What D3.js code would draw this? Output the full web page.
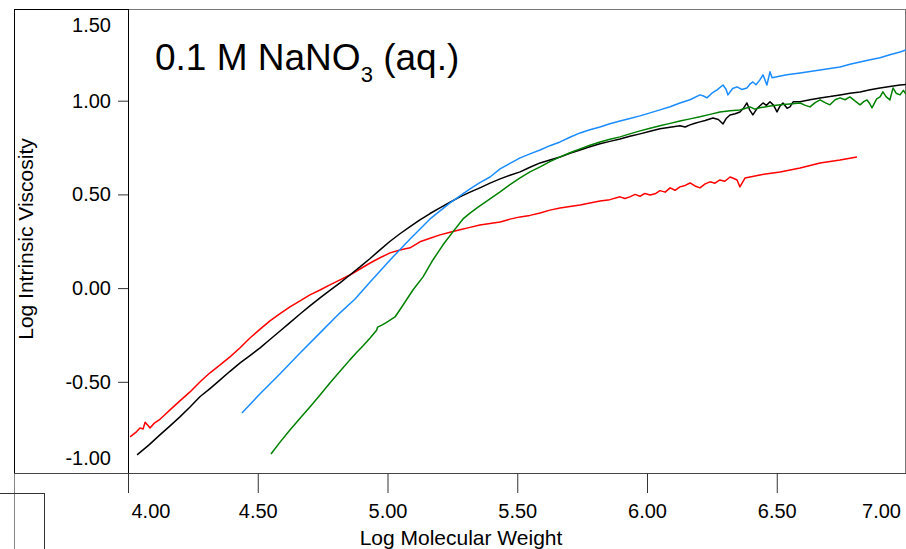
<!DOCTYPE html>
<html>
<head>
<meta charset="utf-8">
<script src="https://cdn.jsdelivr.net/npm/d3@7"></script>
<style>
  html, body { margin: 0; padding: 0; background: #fff; }
  svg { display: block; font-family: "Liberation Sans", Arial, sans-serif; }
</style>
</head>
<body>
<svg id="chart" width="906" height="549"></svg>
<script>
// ---- data ----
const xTicks = [4.0, 4.5, 5.0, 5.5, 6.0, 6.5, 7.0];
const yTicks = [-1.0, -0.5, 0.0, 0.5, 1.0, 1.5];

const redSeries = [
  [4.008,-0.794],[4.030,-0.770],[4.046,-0.746],[4.058,-0.752],[4.066,-0.716],[4.078,-0.735],[4.085,-0.746],
  [4.100,-0.722],[4.123,-0.700],[4.142,-0.676],[4.162,-0.650],[4.200,-0.602],[4.239,-0.554],
  [4.278,-0.500],[4.316,-0.452],[4.355,-0.410],[4.393,-0.367],[4.432,-0.318],[4.470,-0.266],
  [4.508,-0.220],[4.547,-0.175],[4.586,-0.136],[4.624,-0.100],[4.663,-0.068],[4.701,-0.036],
  [4.740,-0.010],[4.778,0.017],[4.817,0.044],[4.855,0.070],[4.894,0.102],[4.933,0.134],
  [4.971,0.162],[5.010,0.188],[5.048,0.203],[5.087,0.215],[5.125,0.247],[5.164,0.266],
  [5.202,0.284],[5.241,0.298],[5.279,0.311],[5.318,0.324],[5.356,0.337],[5.395,0.345],
  [5.434,0.353],[5.472,0.368],[5.511,0.380],[5.549,0.388],[5.588,0.401],[5.626,0.416],
  [5.665,0.428],[5.703,0.436],[5.742,0.444],[5.780,0.454],[5.819,0.465],[5.857,0.472],
  [5.896,0.487],[5.915,0.478],[5.934,0.487],[5.954,0.500],[5.973,0.490],[5.992,0.505],
  [6.012,0.497],[6.031,0.503],[6.050,0.520],[6.070,0.512],[6.089,0.535],[6.108,0.522],
  [6.127,0.540],[6.147,0.548],[6.166,0.561],[6.185,0.545],[6.204,0.535],[6.224,0.556],
  [6.243,0.567],[6.262,0.560],[6.281,0.577],[6.300,0.570],[6.320,0.593],[6.335,0.585],
  [6.347,0.577],[6.358,0.540],[6.378,0.588],[6.435,0.604],[6.513,0.620],[6.590,0.641],
  [6.667,0.668],[6.744,0.684],[6.809,0.700]
];

const blackSeries = [
  [4.035,-0.890],[4.080,-0.838],[4.123,-0.783],[4.162,-0.735],[4.200,-0.687],[4.239,-0.634],
  [4.277,-0.580],[4.316,-0.536],[4.355,-0.490],[4.393,-0.444],[4.432,-0.399],[4.470,-0.360],
  [4.509,-0.319],[4.547,-0.274],[4.586,-0.229],[4.624,-0.184],[4.663,-0.138],[4.701,-0.095],
  [4.740,-0.052],[4.778,-0.012],[4.817,0.028],[4.855,0.070],[4.894,0.113],[4.933,0.158],
  [4.971,0.204],[5.010,0.250],[5.048,0.290],[5.087,0.328],[5.125,0.364],[5.164,0.398],
  [5.202,0.428],[5.241,0.458],[5.279,0.487],[5.318,0.512],[5.356,0.535],[5.395,0.560],
  [5.434,0.583],[5.472,0.602],[5.511,0.620],[5.549,0.645],[5.588,0.668],[5.626,0.684],
  [5.665,0.700],[5.703,0.719],[5.742,0.737],[5.780,0.754],[5.819,0.770],[5.857,0.783],
  [5.896,0.796],[5.934,0.810],[5.973,0.823],[6.012,0.837],[6.050,0.850],[6.089,0.858],
  [6.127,0.866],[6.147,0.860],[6.166,0.871],[6.185,0.880],[6.204,0.887],[6.224,0.894],
  [6.254,0.908],[6.275,0.900],[6.293,0.876],[6.305,0.905],[6.320,0.924],[6.340,0.930],
  [6.358,0.940],[6.372,0.960],[6.385,0.988],[6.396,0.950],[6.408,0.924],[6.425,0.960],
  [6.447,0.988],[6.460,0.975],[6.474,0.994],[6.488,0.975],[6.501,0.940],[6.512,0.970],
  [6.524,0.988],[6.540,0.960],[6.551,0.967],[6.563,0.994],[6.590,0.994],[6.628,1.005],
  [6.667,1.015],[6.705,1.022],[6.744,1.031],[6.782,1.040],[6.821,1.047],[6.860,1.058],
  [6.898,1.068],[6.936,1.076],[6.975,1.084],[6.998,1.086]
];

const blueSeries = [
  [4.439,-0.666],[4.509,-0.564],[4.586,-0.457],[4.663,-0.346],[4.740,-0.239],[4.817,-0.132],
  [4.875,-0.058],[4.933,0.033],[5.010,0.150],[5.087,0.262],[5.164,0.369],[5.241,0.455],
  [5.318,0.529],[5.356,0.563],[5.395,0.593],[5.434,0.636],[5.472,0.666],[5.511,0.695],
  [5.549,0.716],[5.588,0.737],[5.626,0.760],[5.665,0.780],[5.703,0.805],[5.742,0.828],
  [5.780,0.845],[5.819,0.860],[5.857,0.877],[5.896,0.892],[5.934,0.905],[5.973,0.919],
  [6.012,0.935],[6.050,0.951],[6.089,0.968],[6.127,0.988],[6.166,1.005],[6.204,1.031],
  [6.218,1.025],[6.231,1.015],[6.250,1.040],[6.270,1.058],[6.293,1.084],[6.305,1.060],
  [6.312,1.031],[6.330,1.065],[6.347,1.074],[6.365,1.060],[6.385,1.068],[6.398,1.090],
  [6.408,1.100],[6.420,1.085],[6.435,1.111],[6.447,1.138],[6.462,1.084],[6.474,1.154],
  [6.482,1.122],[6.510,1.130],[6.539,1.138],[6.590,1.148],[6.628,1.156],[6.667,1.164],
  [6.705,1.172],[6.744,1.180],[6.782,1.194],[6.821,1.207],[6.860,1.218],[6.898,1.229],
  [6.936,1.245],[6.975,1.260],[6.998,1.271]
];

const greenSeries = [
  [4.551,-0.885],[4.586,-0.822],[4.624,-0.757],[4.663,-0.695],[4.701,-0.634],[4.740,-0.570],
  [4.778,-0.506],[4.817,-0.444],[4.855,-0.383],[4.880,-0.345],[4.906,-0.308],[4.933,-0.266],
  [4.958,-0.225],[4.962,-0.208],[4.980,-0.196],[4.998,-0.181],[5.029,-0.154],[5.060,-0.090],
  [5.098,-0.010],[5.137,0.060],[5.175,0.150],[5.214,0.231],[5.252,0.300],[5.291,0.369],
  [5.318,0.400],[5.345,0.428],[5.395,0.476],[5.434,0.513],[5.472,0.552],[5.511,0.588],
  [5.549,0.620],[5.588,0.647],[5.626,0.675],[5.665,0.700],[5.703,0.722],[5.742,0.743],
  [5.780,0.762],[5.819,0.780],[5.857,0.794],[5.896,0.807],[5.934,0.823],[5.973,0.839],
  [6.012,0.853],[6.050,0.866],[6.089,0.879],[6.127,0.892],[6.166,0.903],[6.204,0.914],
  [6.243,0.927],[6.281,0.940],[6.320,0.946],[6.358,0.951],[6.378,0.958],[6.397,0.967],
  [6.415,0.955],[6.435,0.962],[6.475,0.972],[6.513,0.978],[6.550,0.983],[6.590,0.988],
  [6.610,0.975],[6.628,0.967],[6.648,0.990],[6.667,1.004],[6.686,0.990],[6.705,0.978],
  [6.725,1.005],[6.744,1.015],[6.763,1.005],[6.782,1.020],[6.800,1.000],[6.821,0.978],
  [6.835,0.995],[6.848,1.004],[6.858,0.985],[6.867,0.962],[6.885,1.010],[6.898,1.020],
  [6.909,1.047],[6.922,1.020],[6.936,1.004],[6.948,1.068],[6.960,1.040],[6.975,1.031],
  [6.988,1.055],[6.998,1.036]
];

const seriesList = [
  { data: redSeries,   color: "#ff0000" },
  { data: blackSeries, color: "#000000" },
  { data: blueSeries,  color: "#1a8cff" },
  { data: greenSeries, color: "#008000" }
];

// ---- layout ----
const svg = d3.select("#chart");
const plot = { left: 128, right: 906, top: 9, bottom: 473 };

const x = d3.scaleLinear().domain([4, 7]).range([128, 906.5]);
const y = d3.scaleLinear().domain([-1, 1.5]).range([475.5, 7]);

svg.append("defs").append("clipPath").attr("id", "clip")
  .append("rect")
  .attr("x", plot.left).attr("y", plot.top)
  .attr("width", plot.right - plot.left).attr("height", plot.bottom - plot.top);

// frame lines
const frame = svg.append("g").attr("shape-rendering", "crispEdges").attr("fill", "none");
frame.append("line").attr("x1", 14.5).attr("x2", 14.5).attr("y1", 9).attr("y2", 473).attr("stroke", "#000");
frame.append("line").attr("x1", 14.5).attr("x2", 14.5).attr("y1", 473).attr("y2", 549).attr("stroke", "#888");
frame.append("line").attr("x1", 14).attr("x2", 128).attr("y1", 9.5).attr("y2", 9.5).attr("stroke", "#000");
frame.append("line").attr("x1", 128).attr("x2", 906).attr("y1", 9.5).attr("y2", 9.5).attr("stroke", "#777");
frame.append("line").attr("x1", 905.5).attr("x2", 905.5).attr("y1", 9).attr("y2", 473).attr("stroke", "#777");
frame.append("line").attr("x1", 14).attr("x2", 906).attr("y1", 473.5).attr("y2", 473.5).attr("stroke", "#444");
frame.append("line").attr("x1", 128.5).attr("x2", 128.5).attr("y1", 9).attr("y2", 473).attr("stroke", "#000");
frame.append("line").attr("x1", 0).attr("x2", 44).attr("y1", 493.5).attr("y2", 493.5).attr("stroke", "#333");
frame.append("line").attr("x1", 44.5).attr("x2", 44.5).attr("y1", 493).attr("y2", 549).attr("stroke", "#333");

// axes
const fmt = d => d3.format(".2f")(d).replace("\u2212", "-");
const FONT = "'Liberation Sans', Arial, sans-serif";

const xAxis = svg.append("g")
  .attr("transform", `translate(0,${plot.bottom})`)
  .call(d3.axisBottom(x).tickValues(xTicks).tickFormat(fmt).tickSize(20).tickPadding(11));
xAxis.select(".domain").remove();
xAxis.selectAll(".tick line").attr("stroke", "#333");
xAxis.selectAll(".tick text").attr("font-size", 20).attr("fill", "#000").attr("font-family", FONT);
xAxis.selectAll(".tick").filter(d => d === 4).select("text").attr("text-anchor", "start").attr("x", 3);
xAxis.selectAll(".tick").filter(d => d === 7).select("text").attr("text-anchor", "end").attr("x", -6);
xAxis.selectAll(".tick").filter(d => d === 7).select("line").remove();

const yAxis = svg.append("g")
  .attr("transform", `translate(${plot.left},0)`)
  .call(d3.axisLeft(y).tickValues(yTicks).tickFormat(fmt).tickSize(10).tickPadding(7));
yAxis.select(".domain").remove();
yAxis.selectAll(".tick line").attr("stroke", "#333");
yAxis.selectAll(".tick text").attr("font-size", 20).attr("fill", "#000").attr("font-family", FONT);
yAxis.selectAll(".tick").filter(d => d === 1.5 || d === -1).select("line").remove();
yAxis.selectAll(".tick").filter(d => d === 1.5).select("text").attr("y", 18);
yAxis.selectAll(".tick").filter(d => d === -1).select("text").attr("y", -17.5);

// axis titles
svg.append("text")
  .attr("x", 461).attr("y", 545)
  .attr("text-anchor", "middle").attr("font-size", 21)
  .text("Log Molecular Weight");
svg.append("text")
  .attr("transform", "translate(33,239) rotate(-90)")
  .attr("text-anchor", "middle").attr("font-size", 21)
  .text("Log Intrinsic Viscosity");

// series
const line = d3.line().x(d => x(d[0])).y(d => y(d[1]));
const gLines = svg.append("g").attr("clip-path", "url(#clip)");
seriesList.forEach(s => {
  gLines.append("path")
    .datum(s.data)
    .attr("fill", "none")
    .attr("stroke", s.color)
    .attr("stroke-width", 1.5)
    .attr("stroke-linejoin", "round")
    .attr("d", line);
});

// annotation
const title = svg.append("text").attr("x", 155).attr("y", 70).attr("font-size", 37);
title.append("tspan").text("0.1 M NaNO");
title.append("tspan").attr("font-size", 22).attr("dy", 12).text("3");
title.append("tspan").attr("dy", -12).text(" (aq.)");
</script>
</body>
</html>
